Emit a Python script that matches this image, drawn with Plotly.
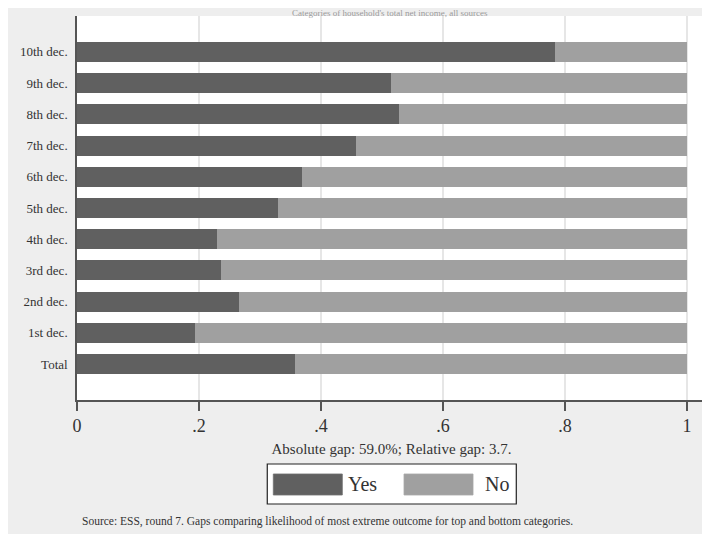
import plotly.graph_objects as go

categories = ["Total", "1st dec.", "2nd dec.", "3rd dec.", "4th dec.", "5th dec.",
              "6th dec.", "7th dec.", "8th dec.", "9th dec.", "10th dec."]
yes_share = [0.357, 0.193, 0.265, 0.236, 0.229, 0.329, 0.369, 0.458, 0.528, 0.515, 0.784]
no_share = [round(1 - v, 3) for v in yes_share]
x_tickvals = [0, 0.2, 0.4, 0.6, 0.8, 1]
x_ticktext = ["0", ".2", ".4", ".6", ".8", "1"]
series_names = ["Yes", "No"]
series_colors = ["#606060", "#a0a0a0"]

axis_title = "Absolute gap: 59.0%; Relative gap: 3.7."
source_note = "Source: ESS, round 7. Gaps comparing likelihood of most extreme outcome for top and bottom categories."
top_title = "Categories of household's total net income, all sources"

SERIF = "Liberation Serif"

fig = go.Figure()
for name, vals, col in zip(series_names, [yes_share, no_share], series_colors):
    fig.add_trace(go.Bar(
        y=categories, x=vals, name=name, orientation="h",
        marker=dict(color=col, line=dict(color=col, width=0)),
        showlegend=False,
    ))

# legend drawn manually to match the wide swatches
shapes = [
    dict(type="rect", xref="paper", yref="paper", x0=0.3025, x1=0.6984, y0=-0.2708, y1=-0.1667,
         fillcolor="white", line=dict(color="#222222", width=1.2)),
    dict(type="rect", xref="paper", yref="paper", x0=0.3121, x1=0.4218, y0=-0.2474, y1=-0.1927,
         fillcolor=series_colors[0], line=dict(color="#707070", width=0.8)),
    dict(type="rect", xref="paper", yref="paper", x0=0.5199, x1=0.6296, y0=-0.2474, y1=-0.1927,
         fillcolor=series_colors[1], line=dict(color="#a8a8a8", width=0.8)),
]

annotations = [
    dict(text=series_names[0], xref="paper", yref="paper", x=0.4283, y=-0.22,
         xanchor="left", yanchor="middle", showarrow=False,
         font=dict(family=SERIF, size=20, color="#333333")),
    dict(text=series_names[1], xref="paper", yref="paper", x=0.6459, y=-0.22,
         xanchor="left", yanchor="middle", showarrow=False,
         font=dict(family=SERIF, size=20, color="#333333")),
    dict(text=source_note, xref="paper", yref="paper", x=0.005, y=-0.3177,
         xanchor="left", yanchor="middle", showarrow=False,
         font=dict(family=SERIF, size=11.5, color="#333333")),
    dict(text=top_title, xref="paper", yref="paper", x=0.498, y=1.0085,
         xanchor="center", yanchor="middle", showarrow=False,
         font=dict(family=SERIF, size=9, color="#9a9a9a")),
]

fig.update_layout(
    width=710, height=534,
    margin=dict(l=69, r=12, t=8, b=142),
    paper_bgcolor="#eeeeee",
    plot_bgcolor="white",
    barmode="stack",
    bargap=0.36,
    shapes=shapes,
    annotations=annotations,
    font=dict(family=SERIF, color="#333333"),
    xaxis=dict(
        range=[0, 1.031], tickvals=x_tickvals, ticktext=x_ticktext,
        showgrid=True, gridcolor="#e6e6e6", gridwidth=1.5,
        zeroline=False, showline=True, linecolor="#555555", linewidth=1.5,
        ticks="outside", ticklen=9, tickwidth=1.5, tickcolor="#555555",
        tickfont=dict(family=SERIF, size=18, color="#333333"),
        title=dict(text=axis_title, standoff=8,
                   font=dict(family=SERIF, size=15, color="#333333")),
        automargin=False,
    ),
    yaxis=dict(
        type="category", categoryorder="array", categoryarray=categories,
        range=[-1.15, 11.15],
        showgrid=False, zeroline=False, showline=True,
        linecolor="#555555", linewidth=1.5, ticks="",
        ticklabelstandoff=5,
        tickfont=dict(family=SERIF, size=13, color="#333333"),
        automargin=False,
    ),
)

fig.write_html("out.html")
